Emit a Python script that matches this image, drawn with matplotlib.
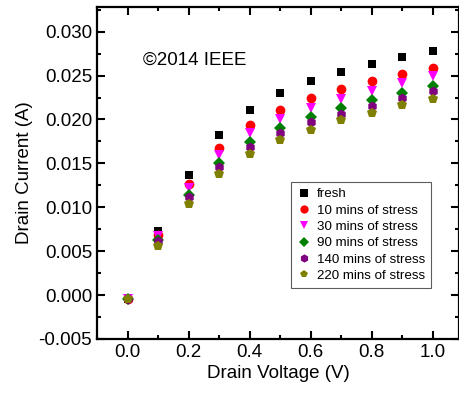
import numpy as np
import matplotlib.pyplot as plt
from matplotlib.ticker import MultipleLocator

plt.rcParams['font.family'] = ['Liberation Sans', 'DejaVu Sans']

voltage = [0.0, 0.1, 0.2, 0.3, 0.4, 0.5, 0.6, 0.7, 0.8, 0.9, 1.0]

fresh = [-0.0005, 0.00728, 0.01366, 0.01823, 0.02109, 0.02302, 0.02434, 0.02540, 0.02630, 0.02709, 0.02785]
stress10 = [-0.0005, 0.00679, 0.01264, 0.01672, 0.01932, 0.02109, 0.02242, 0.02347, 0.02438, 0.02517, 0.02592]
stress30 = [-0.0005, 0.00668, 0.01219, 0.01596, 0.01849, 0.02011, 0.02132, 0.02238, 0.02328, 0.02411, 0.02491]
stress90 = [-0.0005, 0.00623, 0.01143, 0.01506, 0.01747, 0.01902, 0.02026, 0.02132, 0.02219, 0.02298, 0.02377]
stress140 = [-0.0005, 0.00615, 0.01113, 0.01460, 0.01691, 0.01845, 0.01970, 0.02068, 0.02155, 0.02242, 0.02321]
stress220 = [-0.0005, 0.00555, 0.01038, 0.01377, 0.01604, 0.01762, 0.01883, 0.01989, 0.02079, 0.02162, 0.02238]

labels = ['fresh', '10 mins of stress', '30 mins of stress', '90 mins of stress',
          '140 mins of stress', '220 mins of stress']
series = [fresh, stress10, stress30, stress90, stress140, stress220]
colors = ['black', 'red', 'magenta', 'green', 'purple', 'olive']
markers = ['s', 'o', 'v', 'D', 'h', 'p']
sizes = [6, 7, 7, 6, 7, 7]

fig = plt.figure(figsize=(4.6, 3.96), dpi=100)
ax = fig.add_axes([0.211, 0.144, 0.787, 0.838])

for vals, lab, c, m, s in zip(series, labels, colors, markers, sizes):
    ax.plot(voltage, vals, linestyle='none', marker=m, color=c, markersize=s,
            markeredgewidth=0, label=lab)

ax.set_xlim(-0.1, 1.086)
ax.set_ylim(-0.005, 0.0328)
ax.xaxis.set_major_locator(MultipleLocator(0.2))
ax.xaxis.set_minor_locator(MultipleLocator(0.1))
ax.yaxis.set_major_locator(MultipleLocator(0.005))
ax.yaxis.set_minor_locator(MultipleLocator(0.0025))
ax.xaxis.set_major_formatter(plt.FormatStrFormatter('%.1f'))
ax.yaxis.set_major_formatter(plt.FormatStrFormatter('%.3f'))

ax.tick_params(which='both', direction='in', top=True, right=True, width=1.5)
ax.tick_params(which='major', length=6, labelsize=13.5)
ax.tick_params(which='minor', length=3)
for sp in ax.spines.values():
    sp.set_linewidth(1.6)

ax.set_xlabel('Drain Voltage (V)', fontsize=13.5, labelpad=3)
ax.set_ylabel('Drain Current (A)', fontsize=13.5, labelpad=4)

ax.text(0.052, 0.0267, '\u00a92014 IEEE', fontsize=13.5, va='center', ha='left')

leg = ax.legend(loc='upper left', bbox_to_anchor=(0.536, 0.473), borderaxespad=0,
                fontsize=9.6, frameon=True, fancybox=False, edgecolor='#333333',
                handlelength=1.0, handletextpad=0.5, borderpad=0.45,
                labelspacing=0.3, numpoints=1, markerscale=0.85)
leg.get_frame().set_linewidth(0.8)

fig.savefig('out.png', dpi=100)
